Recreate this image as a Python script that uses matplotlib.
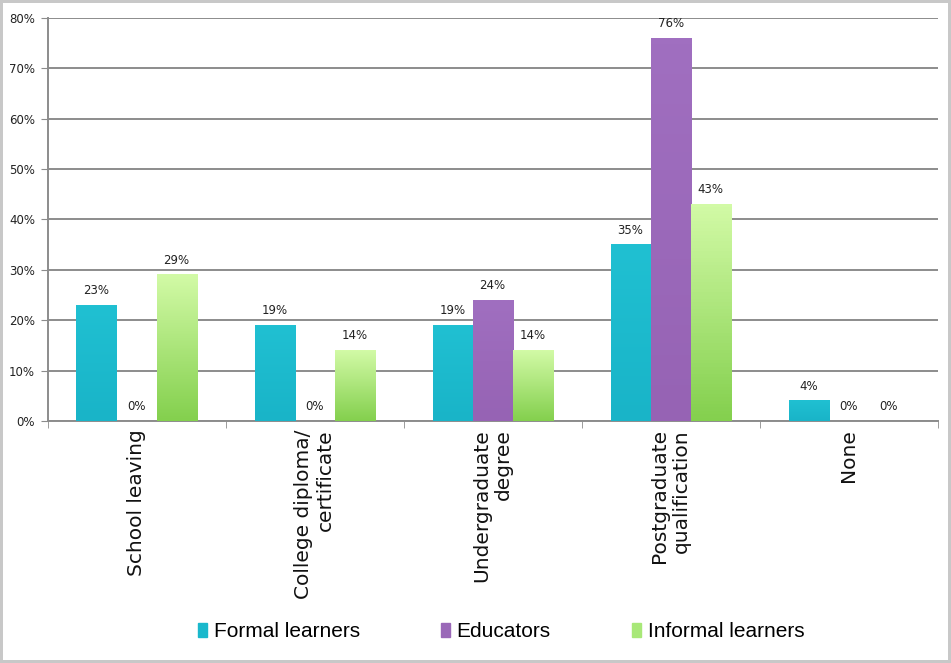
import numpy as np
import matplotlib.pyplot as plt
from matplotlib.colors import LinearSegmentedColormap
from matplotlib.patches import Patch

categories = ['School leaving', 'College diploma/\ncertificate', 'Undergraduate\ndegree',
              'Postgraduate\nqualification', 'None']
series_names = ['Formal learners', 'Educators', 'Informal learners']
formal = [23, 19, 19, 35, 4]
educators = [0, 0, 24, 76, 0]
informal = [29, 14, 14, 43, 0]
values = [formal, educators, informal]
# top / bottom colours of each series gradient
grad = [('#20c0d2', '#19b4c8'), ('#a06fc0', '#9663b4'), ('#d2faa6', '#84d04e')]
legend_colors = ['#1ab8cc', '#9a68b8', '#a8e878']

fig = plt.figure(figsize=(9.51, 6.63), dpi=100)
fig.patch.set_edgecolor('#c8c8c8')
fig.patch.set_linewidth(3)
ax = fig.add_axes([0.05, 0.365, 0.936, 0.608])

x = np.arange(len(categories))
w = 0.225
for i, vals in enumerate(values):
    pos = x + (i - 1) * w
    bars = ax.bar(pos, vals, w, color=legend_colors[i], zorder=2)
    cmap = LinearSegmentedColormap.from_list('g%d' % i, [grad[i][1], grad[i][0]])
    for b, v in zip(bars, vals):
        if v > 0:
            ax.imshow(np.linspace(0, 1, 64).reshape(-1, 1), cmap=cmap, origin='lower',
                      extent=[b.get_x(), b.get_x() + b.get_width(), 0, v],
                      aspect='auto', zorder=3)
        ax.text(b.get_x() + b.get_width() / 2, v + 1.6, '%d%%' % v, ha='center', va='bottom',
                fontsize=8.5, color='#222222', zorder=4)

ax.set_xlim(-0.5, len(categories) - 0.5)
ax.set_ylim(0, 80)
ax.set_yticks(np.arange(0, 81, 10))
ax.set_yticklabels(['%d%%' % t for t in range(0, 81, 10)], fontsize=8.5, color='#222222')
ax.yaxis.grid(True, color='#8c8c8c', linewidth=1.4, zorder=0)
ax.set_axisbelow(True)
ax.set_xticks(x)
ax.set_xticklabels(categories, rotation=90, fontsize=14.5, ha='center', va='top',
                   multialignment='right', color='#111111')
ax.set_xticks(np.arange(-0.5, len(categories), 1), minor=True)
ax.tick_params(axis='x', which='major', length=0, pad=6)
ax.tick_params(axis='x', which='minor', length=5, color='#8c8c8c')
ax.tick_params(axis='y', length=5, color='#8c8c8c', pad=4)
for s in ['top', 'right']:
    ax.spines[s].set_visible(False)
ax.spines['left'].set_color('#8c8c8c')
ax.spines['bottom'].set_color('#8c8c8c')
ax.spines['left'].set_linewidth(1.4)
ax.spines['bottom'].set_linewidth(1.4)

handles = [Patch(color=c) for c in legend_colors]
fig.legend(handles, series_names, loc='center', bbox_to_anchor=(0.527, 0.047), ncol=3,
           frameon=False, handlelength=0.45, handleheight=0.6,
           handletextpad=0.3, columnspacing=3.9,
           prop={'family': 'Liberation Sans', 'size': 15})

fig.savefig('out.png', dpi=100, edgecolor=fig.get_edgecolor())
